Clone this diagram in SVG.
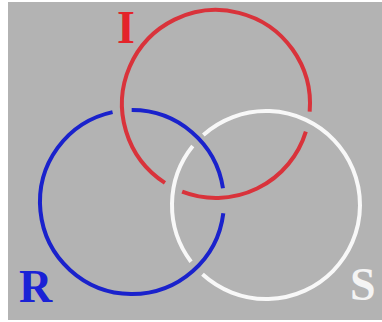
<svg xmlns="http://www.w3.org/2000/svg" width="382" height="322" viewBox="0 0 382 322">
<style>
.ring{fill:none;stroke-width:4;stroke-linecap:butt}
.lbl{font-family:"Liberation Serif","Times New Roman",serif;font-weight:bold;font-size:46px}
</style>
<rect x="0" y="0" width="382" height="322" fill="#ffffff"/>
<rect x="8" y="2" width="374" height="318" fill="#b3b3b3"/>
<g id="connectors">
<g id="ring-I">
<path class="ring" stroke="#d9333b" d="M305.85,131.64 A94,94 0 0 1 182.16,191.70 M164.94,182.92 A94,94 0 1 1 309.68,111.70"/>
</g>
<g id="ring-R">
<path class="ring" stroke="#1a22cc" d="M223.31,213.21 A92,92 0 1 1 112.56,112.08 M131.68,110.0 A92,92 0 0 1 222.97,188.24"/>
</g>
<g id="ring-S">
<path class="ring" stroke="#f8f8f8" d="M191.03,261.70 A94,94 0 0 1 192.75,146.10 M203.35,134.92 A94,94 0 1 1 202.49,274.31"/>
</g>
</g>
<g id="label-I"><text class="lbl" x="117" y="43" fill="#e4242a">I</text></g>
<g id="label-R"><text class="lbl" x="19" y="302" fill="#1a22d6">R</text></g>
<g id="label-S"><text class="lbl" x="350" y="300" fill="#f4f4f4">S</text></g>
</svg>
